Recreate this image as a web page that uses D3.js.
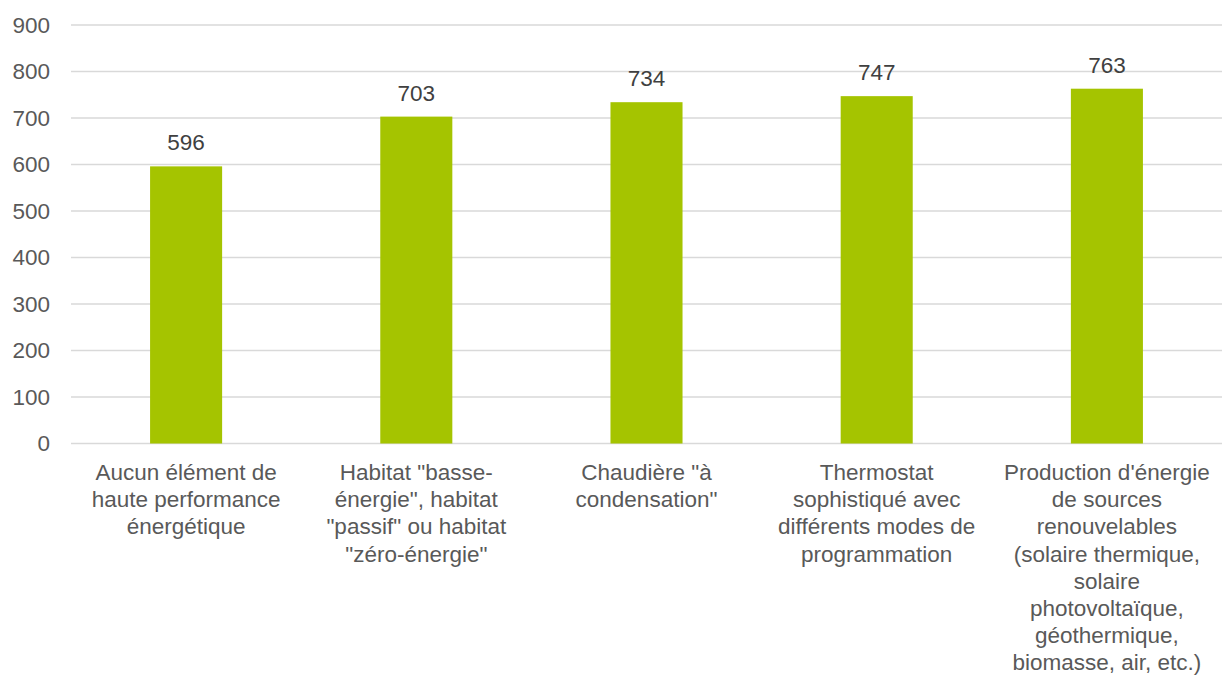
<!DOCTYPE html>
<html>
<head>
<meta charset="utf-8">
<script src="https://cdn.jsdelivr.net/npm/d3@7"></script>
<style>
  html, body { margin: 0; padding: 0; background: #ffffff; }
  svg { display: block; font-family: "Liberation Sans", Arial, sans-serif; }
</style>
</head>
<body>
<svg id="chart" width="1224" height="675"></svg>
<script>
// Category labels, already broken into lines
const categories = [
  ["Aucun élément de", "haute performance", "énergétique"],
  ["Habitat \"basse-", "énergie\", habitat", "\"passif\" ou habitat", "\"zéro-énergie\""],
  ["Chaudière \"à", "condensation\""],
  ["Thermostat", "sophistiqué avec", "différents modes de", "programmation"],
  ["Production d'énergie", "de sources", "renouvelables", "(solaire thermique,", "solaire", "photovoltaïque,", "géothermique,", "biomasse, air, etc.)"]
];
const values = [596, 703, 734, 747, 763];
const yTicks = [0, 100, 200, 300, 400, 500, 600, 700, 800, 900];

const svg = d3.select("#chart");
const margin = { left: 71, right: 2, top: 25, bottom: 231 };
const W = 1224, H = 675;
const fontSize = "22.5px";

const x = d3.scaleBand()
  .domain(d3.range(values.length))
  .range([margin.left, W - margin.right])
  .paddingInner(0.687)
  .paddingOuter(0.3435);

const y = d3.scaleLinear()
  .domain([0, 900])
  .range([H - margin.bottom - 0.5, margin.top]);

// Horizontal gridlines
svg.append("g")
  .selectAll("line")
  .data(yTicks)
  .join("line")
  .attr("x1", margin.left)
  .attr("x2", W - margin.right)
  .attr("y1", d => y(d))
  .attr("y2", d => y(d))
  .attr("stroke", "#d9d9d9")
  .attr("stroke-width", 1.5);

// Y axis labels
const yAxis = d3.axisLeft(y).tickValues(yTicks).tickSize(0).tickPadding(0);
const gy = svg.append("g")
  .attr("transform", `translate(50,0)`)
  .call(yAxis);
gy.select(".domain").remove();
gy.selectAll("text")
  .attr("fill", "#595959")
  .attr("font-size", fontSize)
  .attr("font-family", "Liberation Sans, Arial, sans-serif");

// Bars
svg.append("g")
  .selectAll("rect")
  .data(values)
  .join("rect")
  .attr("x", (d, i) => x(i))
  .attr("width", x.bandwidth())
  .attr("y", d => y(d))
  .attr("height", d => y(0) - y(d))
  .attr("fill", "#a5c400");

// Value labels
svg.append("g")
  .selectAll("text")
  .data(values)
  .join("text")
  .attr("x", (d, i) => x(i) + x.bandwidth() / 2)
  .attr("y", d => y(d) - 16)
  .attr("text-anchor", "middle")
  .attr("fill", "#404040")
  .attr("font-size", fontSize)
  .text(d => d);

// Category labels
const lineH = 27.2;
const cat = svg.append("g")
  .selectAll("text")
  .data(categories)
  .join("text")
  .attr("x", (d, i) => x(i) + x.bandwidth() / 2)
  .attr("y", 480)
  .attr("text-anchor", "middle")
  .attr("fill", "#595959")
  .attr("font-size", fontSize);
cat.each(function(lines, i) {
  const t = d3.select(this);
  lines.forEach((ln, j) => {
    t.append("tspan")
      .attr("x", x(i) + x.bandwidth() / 2)
      .attr("dy", j === 0 ? 0 : lineH)
      .text(ln);
  });
});
</script>
</body>
</html>
